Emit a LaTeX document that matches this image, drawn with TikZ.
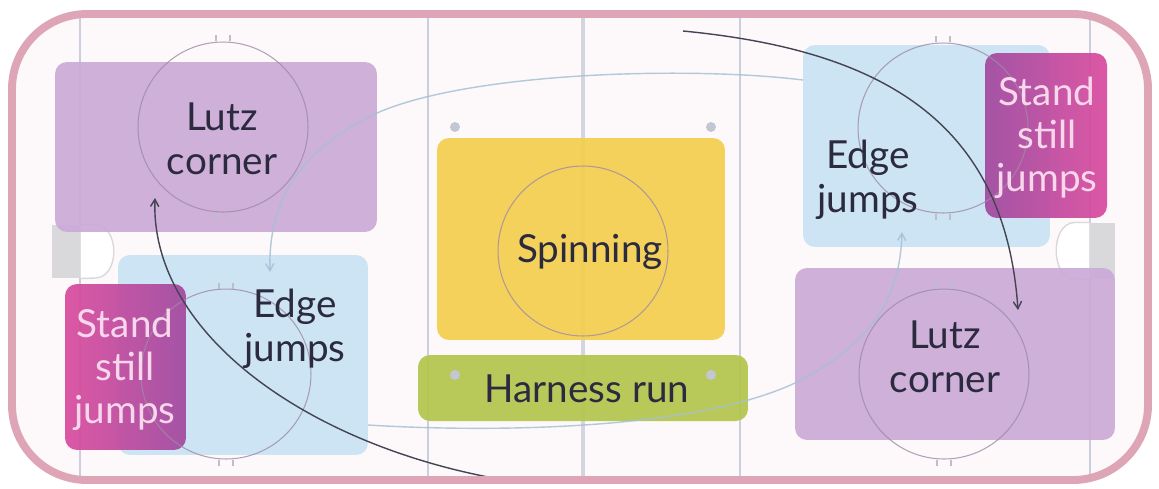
\documentclass[tikz,border=0pt]{standalone}
\usepackage{fontspec}
\setmainfont{Lato}
\usetikzlibrary{arrows}

\definecolor{rinkpink}{HTML}{DDA5B6}
\definecolor{icewhite}{HTML}{FDF8F9}
\definecolor{rinkline}{HTML}{CBCEDC}
\definecolor{lutzpurple}{HTML}{CBAAD7}
\definecolor{edgeblue}{HTML}{C8E3F3}
\definecolor{standpink}{HTML}{D94A9D}
\definecolor{standviolet}{HTML}{A2489F}
\definecolor{spinyellow}{HTML}{F4CE4D}
\definecolor{harnessgreen}{HTML}{B4C64C}
\definecolor{textdark}{HTML}{2B2A3F}
\definecolor{textlight}{HTML}{F8D6EB}
\definecolor{flowblue}{HTML}{A6C0D6}
\definecolor{flowdark}{HTML}{444454}
\definecolor{netgrey}{HTML}{D9D9DC}

\begin{document}
\begin{tikzpicture}[x=0.02cm,y=-0.02cm,>=angle 60,semithick]
  \tikzstyle{every node}=[font=\fontsize{22}{25}\selectfont,text=textdark,align=center]
  \tikzstyle{zone}=[rectangle,rounded corners=0.24cm,inner sep=0pt,opacity=0.92]
  \tikzstyle{faceoff}=[circle,draw=rinkline!70!violet!60!gray,line width=0.6pt,
                       minimum size=3.4cm,inner sep=0pt,opacity=0.8]
  \tikzstyle{hash}=[draw=rinkline!80!gray,line width=0.6pt]
  \tikzstyle{flowline}=[->,draw=flowblue,line width=0.8pt,opacity=0.85]
  \tikzstyle{pathline}=[->,draw=flowdark,line width=0.8pt]

  \useasboundingbox[fill=white] (0,0) rectangle (1159,488);

  % ice and markings
  \fill[icewhite,rounded corners=1.5cm] (12,14) rectangle (1148,480);
  \begin{scope}
    \clip[rounded corners=1.5cm] (12,14) rectangle (1148,480);
    \foreach \x in {80,428,740,1090}
      \draw[rinkline,line width=1pt] (\x,0) -- (\x,488);
    \draw[rinkline!85,line width=2.6pt] (583,0) -- (583,488);
  \end{scope}

  % goals
  \node[rectangle,fill=netgrey,minimum width=0.56cm,minimum height=1.06cm,inner sep=0pt]
       (NetL) at (66,251.5) {};
  \node[rectangle,fill=netgrey,minimum width=0.5cm,minimum height=1.12cm,inner sep=0pt]
       (NetR) at (1102.5,251) {};
  \draw[netgrey,fill=white,line width=0.8pt] (NetL.north east) -- ++(15,0)
       .. controls (120,226) and (120,278) .. (95,278) -- (NetL.south east);
  \draw[netgrey,fill=white,line width=0.8pt] (NetR.north west) -- ++(-15,0)
       .. controls (1050,223) and (1050,279) .. (1075,279) -- (NetR.south west);

  % zones
  \node[zone,fill=lutzpurple,minimum width=6.44cm,minimum height=3.4cm] (LutzL) at (216,147) {};
  \node[zone,fill=edgeblue,minimum width=5cm,minimum height=4cm] (EdgeL) at (243,355) {};
  \node[zone,left color=standpink,right color=standviolet,minimum width=2.42cm,
        minimum height=3.32cm] (StandL) at (125.5,367) {};
  \node[zone,fill=spinyellow,minimum width=5.76cm,minimum height=4.04cm] (Spin) at (581,239) {};
  \node[zone,fill=harnessgreen,minimum width=6.6cm,minimum height=1.32cm] (Harness) at (583,388) {};
  \node[zone,fill=edgeblue,minimum width=4.94cm,minimum height=4.04cm] (EdgeR) at (926.5,146) {};
  \node[zone,left color=standviolet,right color=standpink,minimum width=2.44cm,
        minimum height=3.3cm] (StandR) at (1046,135.5) {};
  \node[zone,fill=lutzpurple,minimum width=6.4cm,minimum height=3.44cm] (LutzR) at (955,354) {};

  % face-off circles and spots
  \node[faceoff] (FoTL) at (223,127) {};
  \node[faceoff] (FoBL) at (226,374) {};
  \node[faceoff] (FoC) at (583,251) {};
  \node[faceoff] (FoTR) at (943,128) {};
  \node[faceoff] (FoBR) at (944,374) {};
  \foreach \c in {FoTL,FoBL,FoTR,FoBR} {
    \draw[hash] ([xshift=-0.14cm]\c.north) -- ++(0,-6);
    \draw[hash] ([xshift=0.14cm]\c.north) -- ++(0,-6);
    \draw[hash] ([xshift=-0.14cm]\c.south) -- ++(0,6);
    \draw[hash] ([xshift=0.14cm]\c.south) -- ++(0,6);
  }
  \foreach \x/\y [count=\i] in {455/127,711/127,455/375,711/375}
    \node[circle,fill=rinkline!90!gray,minimum size=0.2cm,inner sep=0pt] (Spot\i) at (\x,\y) {};

  % labels
  \node (LutzLtxt) at (222,139) {Lutz\\corner};
  \node (EdgeLtxt) at (295,329) {Edge\\jumps};
  \node[text=textlight,font=\fontsize{22}{24.5}\selectfont] (StandLtxt) at (125,370) {Stand\\still\\jumps};
  \node (Spintxt) at (590,252) {Spinning};
  \node (Harnesstxt) at (587,389) {Harness run};
  \node (EdgeRtxt) at (868,180) {Edge\\jumps};
  \node[text=textlight,font=\fontsize{22}{24.5}\selectfont] (StandRtxt) at (1047,138) {Stand\\still\\jumps};
  \node (LutzRtxt) at (945,357) {Lutz\\corner};

  % skating paths
  \coordinate (TopIn) at (803,80);
  \coordinate (TopOut) at (270,272);
  \coordinate (BotIn) at (368,425);
  \coordinate (BotOut) at (902,232);
  \coordinate (RunA) at (683,31);
  \coordinate (RunAend) at (1018,310);
  \coordinate (RunB) at (488,477);
  \coordinate (RunBend) at (155,198);

  \draw[flowline] (TopIn) .. controls (690,66) and (470,72) .. (377,113)
                          .. controls (300,150) and (268,200) .. (TopOut);
  \draw[flowline] (BotIn) .. controls (480,432) and (690,432) .. (795,383)
                          .. controls (870,345) and (900,300) .. (BotOut);
  \draw[pathline] (RunA) .. controls (880,50) and (1005,120) .. (RunAend);
  \draw[pathline] (RunB) .. controls (300,440) and (150,330) .. (RunBend);

  % rink boards
  \draw[rinkpink,line width=4.5pt,rounded corners=1.5cm] (12,14) rectangle (1148,480);
\end{tikzpicture}
\end{document}
